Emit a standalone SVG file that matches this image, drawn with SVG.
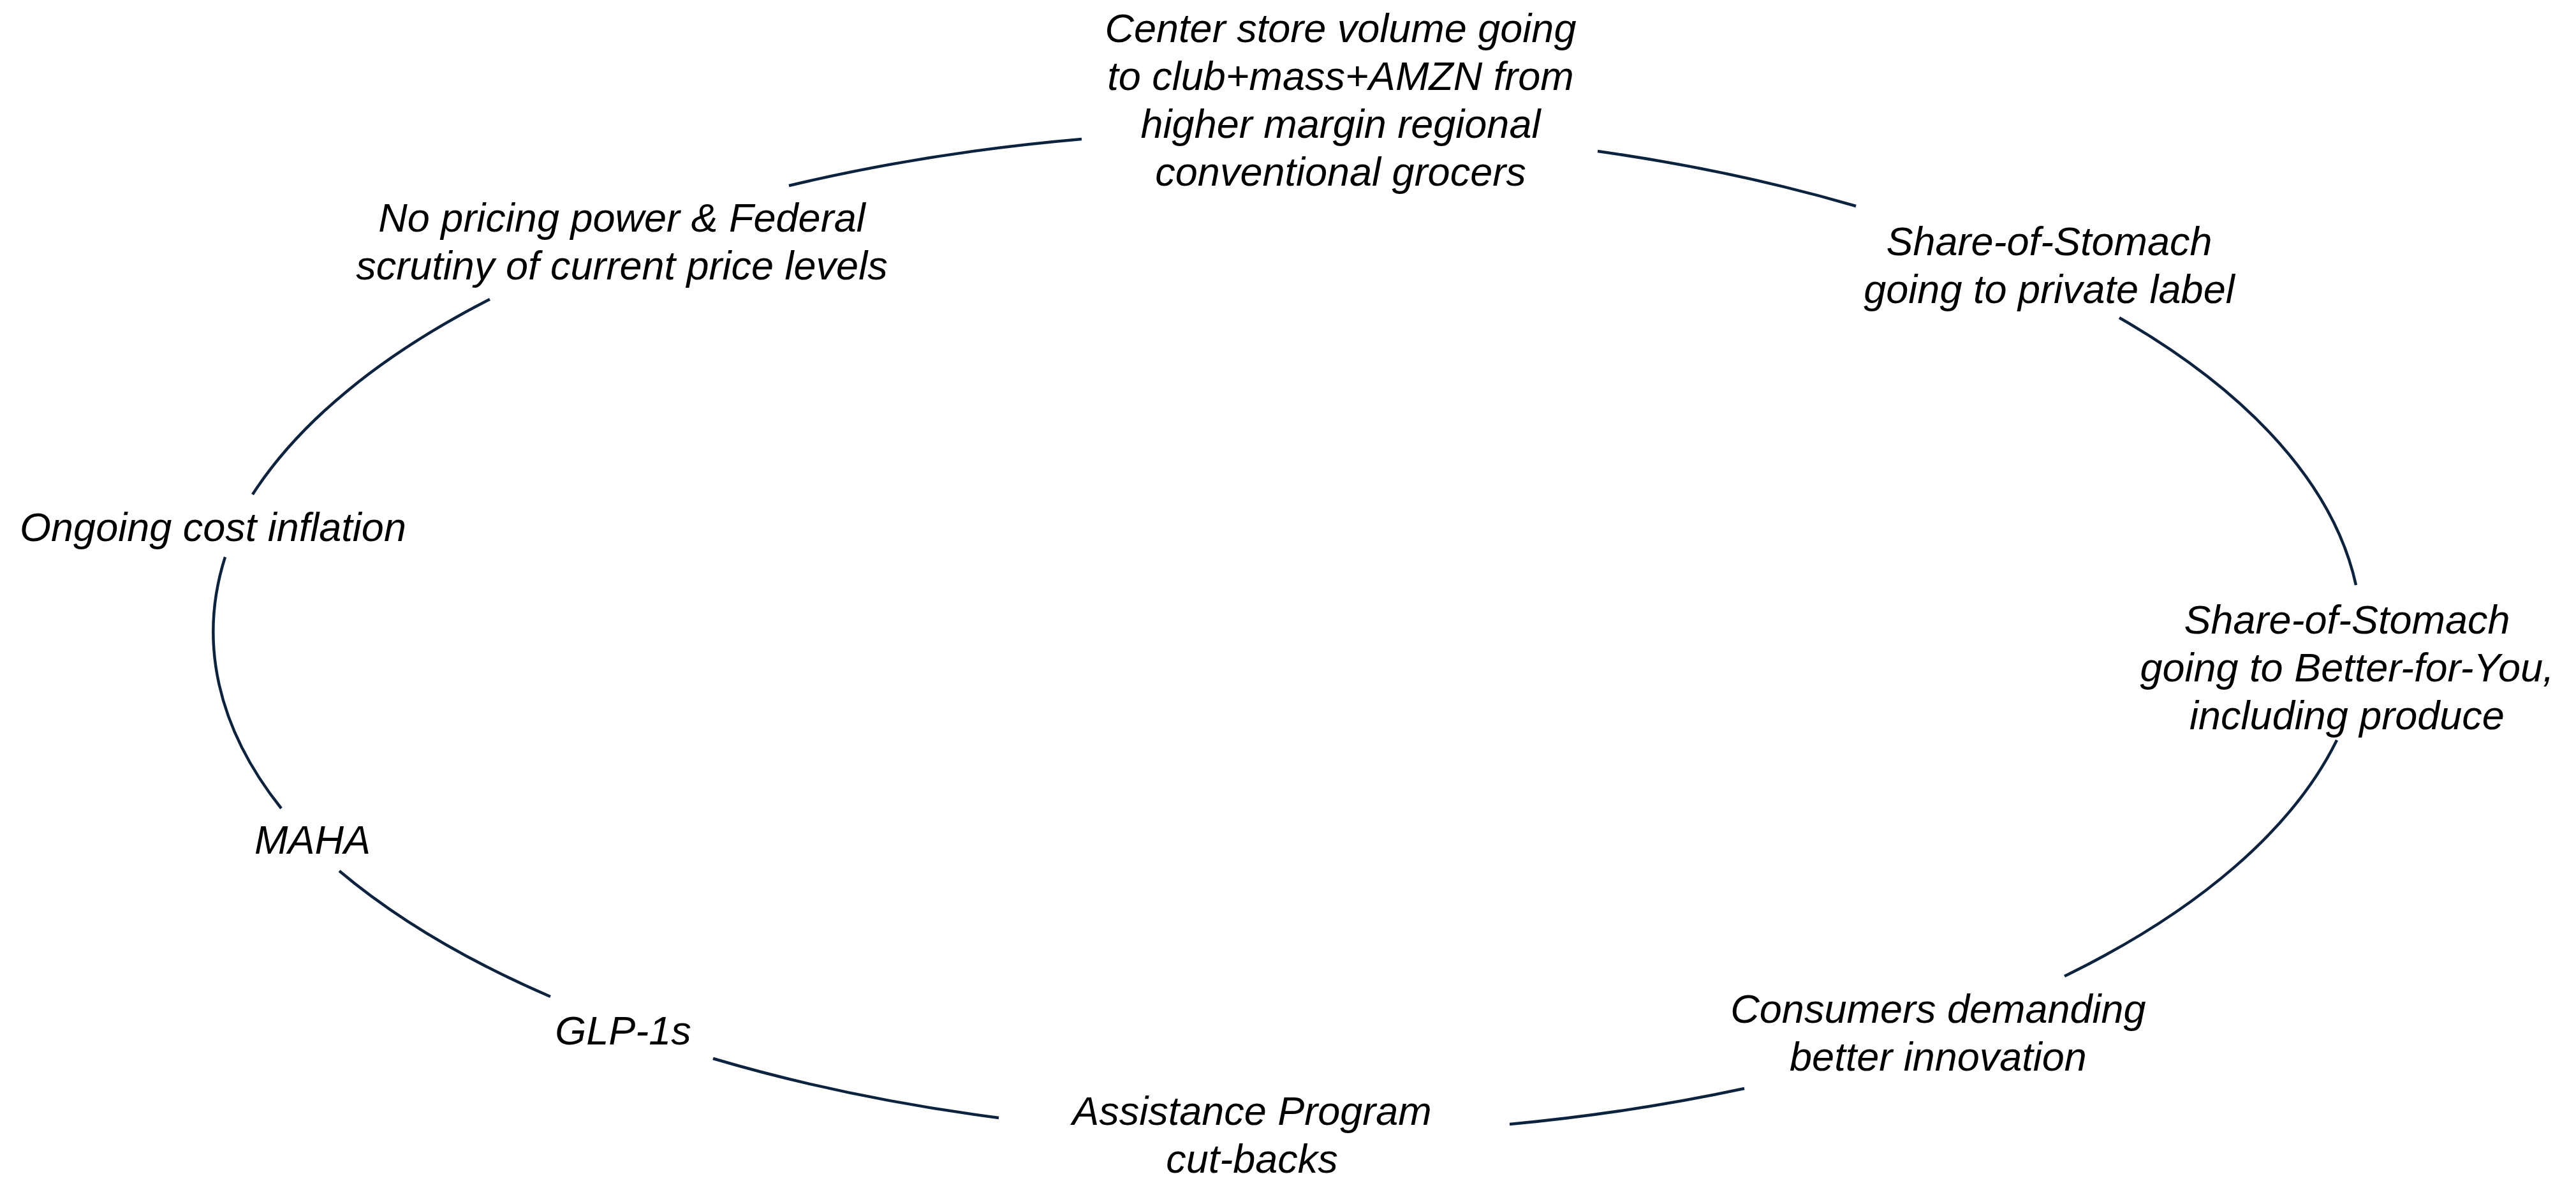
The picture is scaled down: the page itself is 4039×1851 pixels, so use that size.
<svg xmlns="http://www.w3.org/2000/svg" width="4039" height="1851" viewBox="0 0 4039 1851">
<style>
.lbl{font-family:"Liberation Sans",Arial,sans-serif;font-style:italic;font-size:63px;fill:#000;text-anchor:middle}
.arc{fill:none;stroke:#0c2340;stroke-width:4.5}
</style>
<rect width="4039" height="1851" fill="#fff"/>
<g id="connectors">
<path class="arc" d="M1237 291 A1683 790 0 0 1 1696 218"/>
<path class="arc" d="M2505 237 A1683 790 0 0 1 2910 323"/>
<path class="arc" d="M3323 498 A1683 790 0 0 1 3694 917"/>
<path class="arc" d="M3664 1160 A1683 790 0 0 1 3237 1530"/>
<path class="arc" d="M2735 1706 A1683 790 0 0 1 2367 1762"/>
<path class="arc" d="M1566 1752 A1683 790 0 0 1 1118 1659"/>
<path class="arc" d="M863 1562 A1683 790 0 0 1 532 1365"/>
<path class="arc" d="M441 1267 A1683 790 0 0 1 353 873"/>
<path class="arc" d="M396 775 A1683 790 0 0 1 768 469"/>
</g>
<g id="node-center-store">
<text class="lbl" x="2102" y="66">Center store volume going</text>
<text class="lbl" x="2102" y="141">to club+mass+AMZN from</text>
<text class="lbl" x="2102" y="216">higher margin regional</text>
<text class="lbl" x="2102" y="291">conventional grocers</text>
</g>
<g id="node-private-label">
<text class="lbl" x="3213" y="400">Share-of-Stomach</text>
<text class="lbl" x="3213" y="475">going to private label</text>
</g>
<g id="node-better-for-you">
<text class="lbl" x="3680" y="993">Share-of-Stomach</text>
<text class="lbl" x="3680" y="1068">going to Better-for-You,</text>
<text class="lbl" x="3680" y="1143">including produce</text>
</g>
<g id="node-innovation">
<text class="lbl" x="3039" y="1603">Consumers demanding</text>
<text class="lbl" x="3039" y="1678">better innovation</text>
</g>
<g id="node-assistance">
<text class="lbl" x="1963" y="1763">Assistance Program</text>
<text class="lbl" x="1963" y="1838">cut-backs</text>
</g>
<g id="node-glp1">
<text class="lbl" x="977" y="1637">GLP-1s</text>
</g>
<g id="node-maha">
<text class="lbl" x="490" y="1338">MAHA</text>
</g>
<g id="node-cost-inflation">
<text class="lbl" x="334" y="848">Ongoing cost inflation</text>
</g>
<g id="node-pricing-power">
<text class="lbl" x="975" y="363">No pricing power &amp; Federal</text>
<text class="lbl" x="975" y="438">scrutiny of current price levels</text>
</g>
</svg>
